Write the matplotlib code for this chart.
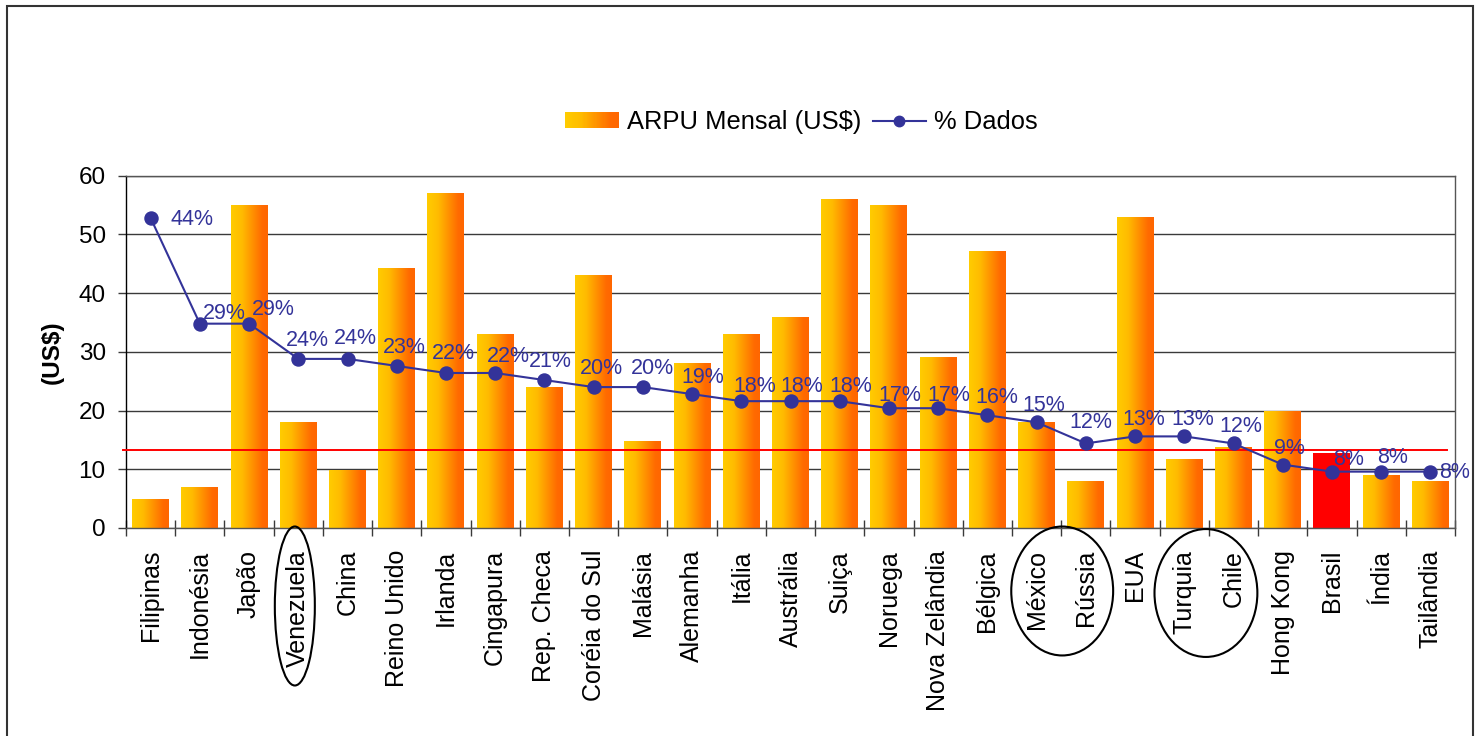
import numpy as np
import matplotlib
matplotlib.use("Agg")
import matplotlib.pyplot as plt
from matplotlib.colors import LinearSegmentedColormap
from matplotlib.patches import Rectangle, Ellipse
from matplotlib.legend_handler import HandlerBase
from matplotlib.lines import Line2D
import matplotlib.transforms as mtransforms

plt.rcParams["font.family"] = ["Liberation Sans", "DejaVu Sans"]

# ---- data -------------------------------------------------------------
paises = ["Filipinas", "Indonésia", "Japão", "Venezuela", "China", "Reino Unido",
          "Irlanda", "Cingapura", "Rep. Checa", "Coréia do Sul", "Malásia",
          "Alemanha", "Itália", "Austrália", "Suiça", "Noruega", "Nova Zelândia",
          "Bélgica", "México", "Rússia", "EUA", "Turquia", "Chile", "Hong Kong",
          "Brasil", "Índia", "Tailândia"]
arpu_mensal = [5, 7, 55, 18, 9.8, 44.2, 57, 33, 24, 43.1, 14.8, 28.1, 33, 36,
               56, 55, 29.1, 47.2, 18, 8, 53, 11.8, 13.8, 20, 12.8, 9, 8]
pct_dados = [44, 29, 29, 24, 24, 23, 22, 22, 21, 20, 20, 19, 18, 18, 18, 17,
             17, 16, 15, 12, 13, 13, 12, 9, 8, 8, 8]
linha_ref = 13.3
destaque = "Brasil"
y_ticks = [0, 10, 20, 30, 40, 50, 60]

# ---- styling ----------------------------------------------------------
AZUL = "#333399"
grad_cmap = LinearSegmentedColormap.from_list(
    "arpu", [(0.0, "#FFCC00"), (0.3, "#FFBB00"), (0.85, "#FF6A00"), (1.0, "#FF6600")])

# label offsets (pixels) relative to each point of the % line
label_offsets = [(41, -7.5), (24, 5), (24, 9), (9, 13), (8, 15), (7.5, 13), (7, 14),
                 (13, 11), (6, 13), (8, 13), (10, 13), (11, 11), (13, 9), (11.5, 9),
                 (11, 9), (11, 7), (11, 7), (9, 12), (7, 11), (5, 15), (8.5, 11),
                 (8.5, 11), (7, 11), (6.5, 11), (17, 7), (11, 9), (24.5, -6)]

W, H, DPI = 1479, 736, 100
fig = plt.figure(figsize=(W / DPI, H / DPI), dpi=DPI)
fig.patch.set_facecolor("white")

ax = fig.add_axes([126 / W, 1 - 528 / H, (1455 - 126) / W, (528 - 175.7) / H])
x = np.arange(len(paises))

# bars: solid base, gradient overlay clipped to each bar
bar_w = 0.75
bars = ax.bar(x, arpu_mensal, width=bar_w,
              color=["#FF0000" if p == destaque else "#FF9900" for p in paises],
              edgecolor="none", zorder=2)
grad = np.linspace(0, 1, 256).reshape(1, -1)
for p, b in zip(paises, bars):
    if p == destaque:
        continue
    im = ax.imshow(grad, cmap=grad_cmap, aspect="auto", interpolation="bilinear",
                   extent=[b.get_x(), b.get_x() + b.get_width(), 0, b.get_height()],
                   zorder=2.1)
    im.set_clip_path(b)

# reference line
ax.plot([-0.56, 26.34], [linha_ref, linha_ref], color="#FF0000", lw=1.4,
        zorder=3, clip_on=False)

ax.set_xlim(-0.5, len(paises) - 0.5)
ax.set_ylim(0, 60)
ax.set_yticks(y_ticks)
ax.set_axisbelow(True)
ax.yaxis.grid(True, color="#3a3a3a", lw=1.0)
ax.tick_params(axis="y", direction="out", length=6, width=1.0, color="#3a3a3a",
               pad=8.6, labelsize=17.5)
ax.set_xticks(x)
ax.set_xticklabels(paises, rotation=90, fontsize=18, va="top")
ax.tick_params(axis="x", length=0, pad=15.8)
ax.set_xticks(np.arange(-0.5, len(paises)), minor=True)
ax.tick_params(axis="x", which="minor", direction="inout", length=11.5, width=1.0,
               color="#3a3a3a")
for s in ["top", "right", "bottom"]:
    ax.spines[s].set_color("#555555")
    ax.spines[s].set_linewidth(1.0)
ax.spines["left"].set_color("black")
ax.spines["left"].set_linewidth(1.0)

ax.set_ylabel("(US$)", fontsize=17.5, fontweight="bold")
ax.yaxis.set_label_coords(-0.047, 0.5)

# % line on hidden secondary scale
ax2 = ax.twinx()
ax2.set_ylim(0, 50)
ax2.set_axis_off()
ax2.plot(x, pct_dados, color=AZUL, lw=1.5, marker="o", ms=9.4, zorder=4,
         clip_on=False)
for xi, v, (dx, dy) in zip(x, pct_dados, label_offsets):
    ax2.annotate(f"{v}%", (xi, v), xytext=(dx, dy), textcoords="offset pixels",
                 ha="center", va="baseline", fontsize=15.5, color=AZUL,
                 annotation_clip=False, zorder=5)

# highlight ellipses around category labels (x in data, y in axes fraction)
blend = mtransforms.blended_transform_factory(ax.transData, ax.transAxes)
ellipses = [(2.93, -0.2214, 0.813, 0.4513),
            (18.52, -0.1788, 2.07, 0.366),
            (21.44, -0.1845, 2.09, 0.363)]
for cx, cy, ew, eh in ellipses:
    ax.add_patch(Ellipse((cx, cy), ew, eh, transform=blend, fill=False,
                         ec="black", lw=1.5, clip_on=False, zorder=6))

# legend
class GradientHandler(HandlerBase):
    def __init__(self, cmap, n=48):
        super().__init__()
        self.cmap, self.n = cmap, n

    def create_artists(self, legend, orig_handle, xdescent, ydescent, width,
                       height, fontsize, trans):
        arts = []
        for k in range(self.n):
            arts.append(Rectangle((-xdescent + width * k / self.n, -ydescent),
                                  width / self.n * 1.1, height,
                                  facecolor=self.cmap((k + 0.5) / self.n),
                                  edgecolor="none", transform=trans))
        return arts

h_bar = Rectangle((0, 0), 1, 1, label="ARPU Mensal (US$)")
h_line = Line2D([], [], color=AZUL, lw=1.5, marker="o", ms=7.5, label="% Dados")
fig.legend(handles=[h_bar, h_line], loc="center",
           bbox_to_anchor=(801.5 / W, 1 - 122 / H), ncol=2, frameon=False,
           fontsize=18.4, handlelength=2.1, handleheight=0.55,
           handletextpad=0.3, columnspacing=0.45,
           handler_map={Rectangle: GradientHandler(grad_cmap)})

# outer frame (open at the bottom edge of the image)
fig.add_artist(Rectangle((6.7 / W, -0.05), (1472.7 - 6.7) / W, (H - 6) / H + 0.05,
                         transform=fig.transFigure, fill=False, ec="#333333",
                         lw=1.5, clip_on=False))

fig.savefig("out.png", dpi=DPI)
